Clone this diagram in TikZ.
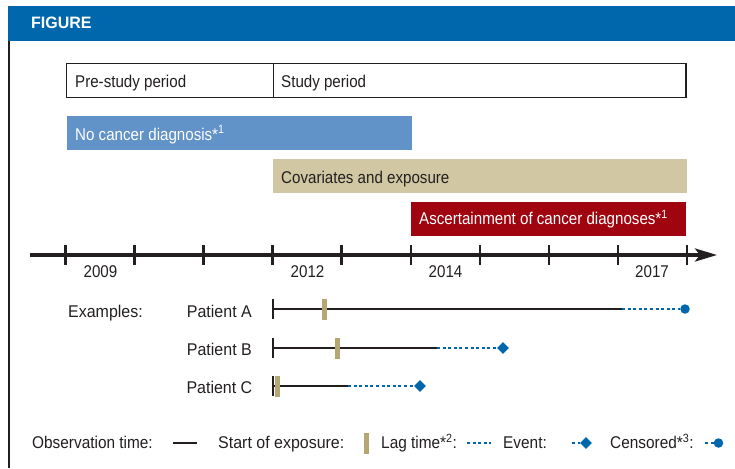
\documentclass[tikz,border=0pt]{standalone}
\usepackage{fontspec}
\setmainfont{Liberation Sans}[FakeStretch=0.89]
\newfontfamily\widefont{Liberation Sans}[FakeStretch=0.94]
\newfontfamily\legfont{Liberation Sans}[FakeStretch=0.905]
\newfontfamily\headfont{Liberation Sans}[FakeStretch=0.97]
\usetikzlibrary{shapes.geometric,arrows.meta}
\definecolor{hdrblue}{HTML}{0067AC}
\definecolor{lightblue}{HTML}{6192C8}
\definecolor{tanfill}{HTML}{D1C8A3}
\definecolor{tanbar}{HTML}{B4A774}
\definecolor{darkred}{HTML}{A0050F}
\definecolor{ink}{HTML}{231F20}
\tikzset{
  lbl/.style={anchor=base west, inner sep=0pt, text=ink},
  leglbl/.style={anchor=base west, inner sep=0pt, text=ink, font=\legfont\fontsize{17}{20}\selectfont},
  wlbl/.style={anchor=base west, inner sep=0pt, text=white},
  yearlbl/.style={anchor=base, inner sep=0pt, text=ink},
  plbl/.style={anchor=base east, inner sep=0pt, text=ink, font=\widefont\fontsize{17}{20}\selectfont},
  axisline/.style={draw=ink, line width=3.5pt},
  tickline/.style={draw=ink, line width=2.5pt},
  obsline/.style={draw=ink, line width=2.7pt},
  startmark/.style={draw=ink, line width=2.7pt},
  lagline/.style={draw=hdrblue, line width=2.7pt, dash pattern=on 3pt off 2.6pt},
  lagbar/.style={fill=tanbar, draw=none, minimum width=5.5pt, minimum height=21pt, inner sep=0pt},
  eventmark/.style={diamond, fill=hdrblue, draw=none, minimum size=12pt, inner sep=0pt},
  censmark/.style={circle, fill=hdrblue, draw=none, minimum size=9.5pt, inner sep=0pt},
}
\begin{document}
\begin{tikzpicture}[x=1pt, y=-1pt, font=\fontsize{17}{20}\selectfont]
\useasboundingbox (0,0) rectangle (735,468);
% header and frame
\fill[hdrblue] (8,6) rectangle (735,40.7);
\node[anchor=base west, inner sep=0pt, text=white, font=\headfont\bfseries\fontsize{16.5}{20}\selectfont] (fig) at (31,28.5) {FIGURE};
\draw[ink, line width=2pt] (9,40.7) -- (9,468);
% period box
\draw[ink, line width=1.3pt] (66.7,63.3) rectangle (686,97.3);
\draw[ink, line width=1.3pt] (273.3,63.3) -- (273.3,97.3);
\node[lbl] (pre) at (75,87.5) {Pre-study period};
\node[lbl] (study) at (281,87.5) {Study period};
% colored bars
\fill[lightblue] (66.7,116) rectangle (411.7,150);
\node[wlbl] (nocancer) at (75,140) {No cancer diagnosis*\textsuperscript{1}};
\fill[tanfill] (272.7,159.3) rectangle (686.7,192.7);
\node[lbl] (cov) at (281,183.3) {Covariates and exposure};
\fill[darkred] (411,201.7) rectangle (686,235.7);
\node[wlbl] (asc) at (419,224.5) {Ascertainment of cancer diagnoses*\textsuperscript{1}};
% axis
\coordinate (ax0) at (30,255);
\coordinate (ax1) at (717,255);
\draw[axisline, -{Stealth[length=22pt,width=13pt,inset=5pt]}] (ax0) -- (ax1);
\foreach \i in {0,...,9} {
  \draw[tickline] ({65.5+69.05*\i},245) -- ({65.5+69.05*\i},265);
}
\node[yearlbl] (y2009) at (100.5,277) {2009};
\node[yearlbl] (y2012) at (307.5,277) {2012};
\node[yearlbl] (y2014) at (445.5,277) {2014};
\node[yearlbl] (y2017) at (652,277) {2017};
% examples
\node[lbl, font=\widefont\fontsize{17}{20}\selectfont] (ex) at (68,317) {Examples:};
\node[plbl] (pa) at (252,317) {Patient A};
\node[plbl] (pb) at (252,355) {Patient B};
\node[plbl] (pc) at (252.5,393) {Patient C};
% Patient A
\coordinate (As) at (273,309);
\coordinate (Ae) at (622,309);
\node[censmark] (Aend) at (685,309) {};
\draw[obsline] (As) -- (Ae);
\draw[lagline] (Ae) -- (Aend.west);
\draw[startmark] (273,299) -- (273,319);
\node[lagbar] (Alag) at (324.5,309) {};
% Patient B
\coordinate (Bs) at (273,348);
\coordinate (Be) at (437,348);
\node[eventmark] (Bend) at (503,348) {};
\draw[obsline] (Bs) -- (Be);
\draw[lagline] (Be) -- (Bend.west);
\draw[startmark] (273,338) -- (273,358);
\node[lagbar] (Blag) at (337.5,348) {};
% Patient C
\coordinate (Cs) at (273,386);
\coordinate (Ce) at (348,386);
\node[eventmark] (Cend) at (420,386) {};
\draw[obsline] (Cs) -- (Ce);
\draw[lagline] (Ce) -- (Cend.west);
\draw[startmark] (273,376) -- (273,396);
\node[lagbar] (Clag) at (277.7,386) {};
% legend
\node[leglbl] (lobs) at (32,448.5) {Observation time:};
\coordinate (lo1) at (173,443);
\coordinate (lo2) at (197,443);
\draw[obsline] (lo1) -- (lo2);
\node[leglbl, font=\widefont\fontsize{17}{20}\selectfont] (lstart) at (218,448.5) {Start of exposure:};
\node[lagbar] (lbar) at (366.5,443) {};
\node[leglbl] (llag) at (381,448.5) {Lag time*\textsuperscript{2}:};
\coordinate (ll1) at (467,443);
\coordinate (ll2) at (491,443);
\draw[lagline] (ll1) -- (ll2);
\node[leglbl] (levent) at (503,448.5) {Event:};
\coordinate (le1) at (572,443);
\node[eventmark] (lediam) at (586,443) {};
\draw[lagline] (le1) -- (lediam.west);
\node[leglbl] (lcens) at (610,448.5) {Censored*\textsuperscript{3}:};
\coordinate (lc1) at (705,443);
\node[censmark] (lccirc) at (718.5,443) {};
\draw[lagline] (lc1) -- (lccirc.west);
\end{tikzpicture}
\end{document}
